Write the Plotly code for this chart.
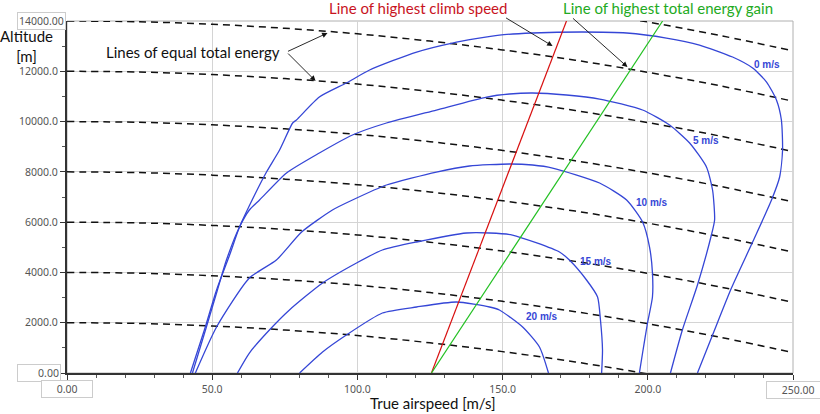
import plotly.graph_objects as go

# ---- data (true airspeed m/s, altitude m) ----
c0_speed = [42.5, 47.3, 51.5, 56.0, 59.4, 64.6, 68.7, 73.2, 77.7, 79.0, 86.9, 96.2, 104.2,
            120.4, 132.7, 148.9, 160.3, 177.5, 192.7, 206.4, 217.8, 229.2, 236.1, 240.9, 244.3,
            246.0, 246.4, 245.4, 242.6, 236.1, 228.8, 222.3, 217.1]
c0_alt = [0, 1710, 3301, 4693, 5806, 7079, 7994, 8869, 9943, 10062, 10976, 11533, 12050,
          12766, 13124, 13442, 13522, 13562, 13522, 13323, 13045, 12567, 12130, 11573, 10857,
          10062, 8869, 7795, 6880, 5210, 3380, 1511, 0]

c5_speed = [43.2, 48.0, 51.8, 54.9, 59.4, 62.8, 66.3, 75.6, 86.9, 98.3, 110.0, 127.2, 144.5,
            152.4, 160.3, 172.0, 183.4, 198.2, 207.5, 214.4, 220.2, 222.3, 223.0, 221.9, 217.1,
            211.9, 207.8]
c5_alt = [0, 1829, 3301, 4494, 5806, 6483, 6880, 7954, 8749, 9465, 9943, 10460, 10976, 11096,
          11136, 11056, 10896, 10460, 9861, 9147, 8193, 7278, 6085, 5488, 3500, 1710, 0]

c10_speed = [44.2, 51.5, 62.8, 72.1, 80.8, 91.4, 98.3, 110.0, 127.2, 138.6, 152.4, 160.3, 167.2,
             183.4, 192.7, 198.2, 200.6, 201.6, 201.6, 199.9, 198.2, 197.1]
c10_alt = [0, 1829, 3778, 4494, 5607, 6483, 6880, 7477, 7994, 8232, 8312, 8272, 8153, 7556, 6880,
           6005, 5011, 3977, 3023, 1989, 795, 0]

c15_speed = [58.7, 62.8, 69.7, 76.6, 88.0, 99.7, 108.6, 120.4, 137.6, 145.5, 153.4, 169.6, 173.0,
             178.9, 182.7, 183.7, 184.4, 184.1]
c15_alt = [0, 795, 1710, 2506, 3579, 4375, 4892, 5210, 5568, 5568, 5488, 4812, 4494, 3699, 3023,
           2108, 915, 0]

c20_speed = [80.1, 88.0, 96.2, 108.6, 120.4, 134.1, 145.5, 148.9, 156.9, 162.7, 165.8]
c20_alt = [0, 835, 1511, 2386, 2625, 2824, 2625, 2506, 1829, 1034, 0]

contour_names = ["0 m/s", "5 m/s", "10 m/s", "15 m/s", "20 m/s"]

# lines of equal total energy: level (altitude at zero speed) and altitude drop vs speed
energy_levels = [2000, 4000, 6000, 8000, 10000, 12000, 14000, 16000]
drop_speed = [0, 25, 50, 75, 100, 125, 150, 175, 200, 225, 250]
drop_alt = [0, 30, 130, 290, 510, 800, 1150, 1560, 2040, 2580, 3190]

climb_speed = [125.5, 172.0]
climb_alt = [0, 14000]
gain_speed = [125.5, 205.1]
gain_alt = [0, 14000]

x_ticks = [0, 50, 100, 150, 200, 250]
x_ticktext = ["", "50.0", "100.0", "150.0", "200.0", ""]
y_ticks = [0, 2000, 4000, 6000, 8000, 10000, 12000, 14000]
y_ticktext = ["", "2000.0", "4000.0", "6000.0", "8000.0", "10000.0", "12000.0", ""]

BLUE = "#3546d6"
fig = go.Figure()

for lvl in energy_levels:
    fig.add_trace(go.Scatter(
        x=drop_speed, y=[lvl - d for d in drop_alt], mode="lines",
        line=dict(color="#111111", width=1.5, dash="7px,5px", shape="spline"),
        hoverinfo="skip", showlegend=False))

for sx, sy in [(c0_speed, c0_alt), (c5_speed, c5_alt), (c10_speed, c10_alt),
               (c15_speed, c15_alt), (c20_speed, c20_alt)]:
    fig.add_trace(go.Scatter(x=sx, y=sy, mode="lines",
                             line=dict(color=BLUE, width=1.3, shape="spline", smoothing=0.6),
                             showlegend=False))

fig.add_trace(go.Scatter(x=climb_speed, y=climb_alt, mode="lines",
                         line=dict(color="#d81010", width=1.2), showlegend=False))
fig.add_trace(go.Scatter(x=gain_speed, y=gain_alt, mode="lines",
                         line=dict(color="#22c022", width=1.2), showlegend=False))

TXT = "Lato, 'Open Sans', sans-serif"
C = dict(xanchor="center", yanchor="middle")
ann = []
# contour labels
for name, (lx, ly) in zip(contour_names, [(241.2, 12289), (220.2, 9266), (201.3, 6801),
                                           (182.0, 4454), (163.4, 2267)]):
    ann.append(dict(C, x=lx, y=ly, text="<b>" + name + "</b>", showarrow=False,
                    font=dict(family="Liberation Sans, Arial", size=10, color=BLUE)))

# text labels
ann.append(dict(C, xref="paper", yref="paper", x=(193 - 67) / 726, y=(373 - 52) / 352,
                text="Lines of equal total energy", showarrow=False,
                font=dict(family=TXT, size=15, color="#111111")))
ann.append(dict(C, xref="paper", yref="paper", x=(418 - 67) / 726, y=(373 - 8) / 352,
                text="Line of highest climb speed", showarrow=False,
                font=dict(family=TXT, size=15, color="#c8141e")))
ann.append(dict(C, xref="paper", yref="paper", x=(668 - 67) / 726, y=(373 - 8) / 352,
                text="Line of highest total energy gain", showarrow=False,
                font=dict(family=TXT, size=15, color="#22aa22")))

# arrows
for hx, hy, axp, ayp in [(89.7, 13522, -41, 19), (85.6, 11613, -29, -29),
                         (167.2, 13005, -48, -29), (193.0, 12170, -56, -50)]:
    ann.append(dict(x=hx, y=hy, ax=axp, ay=ayp, text="", showarrow=True,
                    arrowhead=2, arrowsize=1.2, arrowwidth=0.9, arrowcolor="#111111"))

# axis titles
ann.append(dict(C, xref="paper", yref="paper", x=(26 - 67) / 726, y=(373 - 46) / 352,
                text="Altitude<br>[m]", showarrow=False, align="center",
                font=dict(family=TXT, size=15, color="#111111")))
ann.append(dict(C, xref="paper", yref="paper", x=(433 - 67) / 726, y=(373 - 403) / 352,
                text="True airspeed [m/s]", showarrow=False,
                font=dict(family=TXT, size=15, color="#111111")))

# boxed end tick labels
box = dict(C, showarrow=False, bgcolor="white", bordercolor="#cccccc", borderwidth=1,
           font=dict(family="Noto Sans", size=10.5, color="#555555"))
ann.append(dict(box, xref="paper", yref="paper", x=(41 - 67) / 726, y=(373 - 21) / 352,
                text="14000.00"))
ann.append(dict(box, xref="paper", yref="paper", x=(39 - 67) / 726, y=(373 - 373) / 352,
                text="       0.00"))
ann.append(dict(box, xref="paper", yref="paper", x=(67 - 67) / 726, y=(373 - 389) / 352,
                text="     0.00     "))
ann.append(dict(box, xref="paper", yref="paper", x=(794 - 67) / 726, y=(373 - 390) / 352,
                text="     250.00  "))

fig.update_layout(
    width=820, height=414,
    margin=dict(l=67, r=27, t=21, b=41),
    paper_bgcolor="white", plot_bgcolor="white",
    annotations=ann,
    shapes=[dict(type="rect", xref="paper", yref="paper", x0=0, y0=0, x1=1, y1=1,
                 line=dict(color="#b0b0b0", width=1), layer="below")],
    xaxis=dict(range=[0, 250], tickmode="array", tickvals=x_ticks, ticktext=x_ticktext,
               showgrid=True, gridcolor="#d4d4d4", gridwidth=1, zeroline=False,
               showline=True, linecolor="#333333", linewidth=2,
               ticks="outside", ticklen=5, tickcolor="#333333",
               minor=dict(tickmode="linear", tick0=0, dtick=10, ticks="outside",
                          ticklen=3, tickcolor="#555555", showgrid=False),
               tickfont=dict(family="Noto Sans", size=10.5, color="#555555"),
               fixedrange=True),
    yaxis=dict(range=[0, 14000], tickmode="array", tickvals=y_ticks, ticktext=y_ticktext,
               showgrid=True, gridcolor="#d4d4d4", gridwidth=1, zeroline=False,
               showline=True, linecolor="#333333", linewidth=2,
               ticks="outside", ticklen=5, tickcolor="#333333",
               minor=dict(tickmode="linear", tick0=0, dtick=1000, ticks="outside",
                          ticklen=3, tickcolor="#555555", showgrid=False),
               tickfont=dict(family="Noto Sans", size=10.5, color="#555555"),
               fixedrange=True),
)

fig.write_html("out.html", post_script="document.body.style.margin='0';",
               config={"displayModeBar": False})
